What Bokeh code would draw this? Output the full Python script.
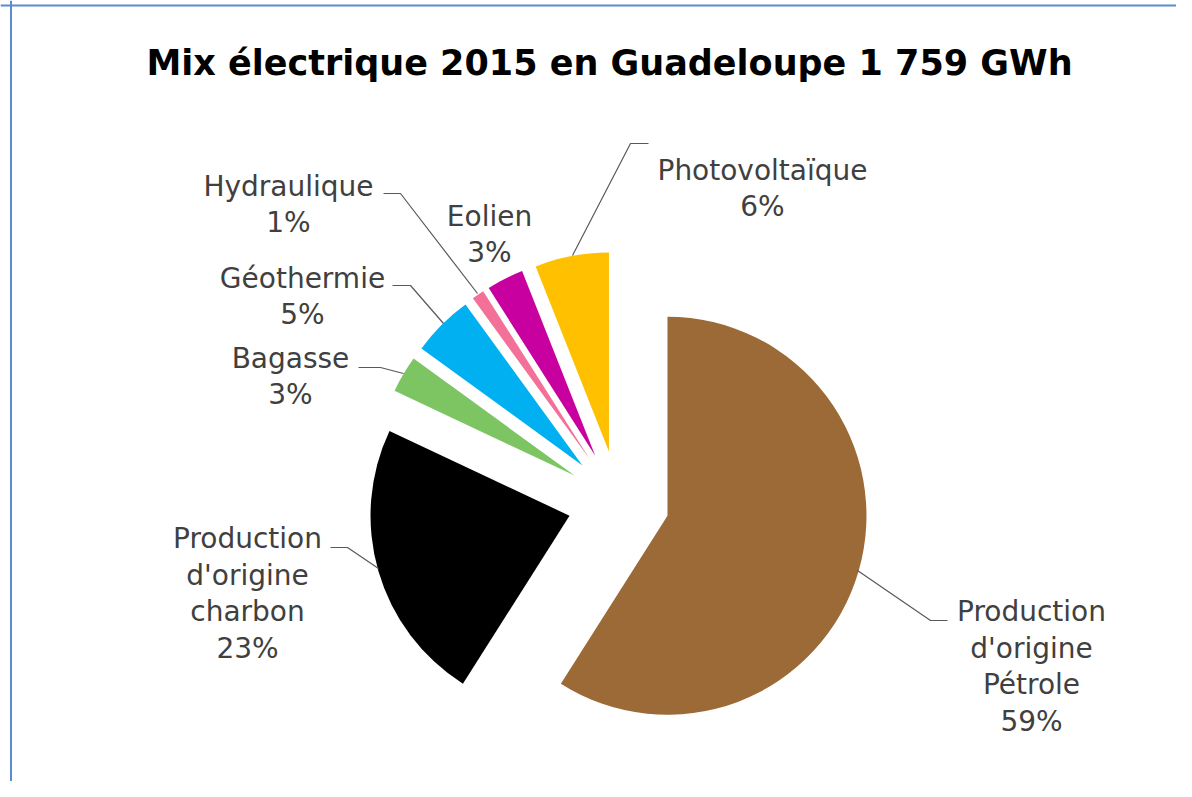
import math
from bokeh.plotting import figure
from bokeh.models import Range1d, Span, ColumnDataSource
from bokeh.core.properties import value
from bokeh.embed import file_html
from bokeh.resources import INLINE

# ---------------- data ----------------
title_text = "Mix électrique 2015 en Guadeloupe 1 759 GWh"
categories = ["Production\nd'origine\nPétrole", "Production\nd'origine\ncharbon",
              "Bagasse", "Géothermie", "Hydraulique", "Eolien", "Photovoltaïque"]
shares = [59, 23, 3, 5, 1, 3, 6]
colors = ["#9C6A36", "#000000", "#7DC462", "#00B0F0", "#F37199", "#C800A0", "#FFC000"]

# ---------------- layout (screen px) ----------------
W, H = 1176, 781
PAGE_H = 797
def Y(ys):  # screen y -> data y
    return PAGE_H - ys

cx, cy, R, EXPLODE = 618, 501, 199, 51

# label block centres (screen coords) per slice, same order as categories
label_pos = [(1031, 666), (247, 593), (290, 376), (302, 296), (288, 204), (489, 234), (762, 188)]
line_gap = 36.5
leaders = [
    [(857, 570), (930, 620), (947, 620)],
    [(330, 547), (347, 547), (378, 568)],
    [(358, 367), (380, 367), (403, 373)],
    [(392, 285), (410, 285), (443, 323)],
    [(383, 193), (400, 193), (477, 293)],
    None,
    [(572, 255), (630, 143), (648, 143)],
]

p = figure(width=W, height=H, output_backend="svg", toolbar_location=None,
           x_range=Range1d(0, W), y_range=Range1d(PAGE_H - H, PAGE_H),
           min_border=0)
p.axis.visible = False
p.xgrid.visible = False
p.ygrid.visible = False
p.outline_line_color = None
p.background_fill_color = "white"
p.border_fill_color = "white"

# wedges, clockwise from 12 o'clock, each pushed out along its mid angle
total = float(sum(shares))
starts, ends, xs, ys = [], [], [], []
acc = 0.0
for v in shares:
    f0, f1 = acc / total, (acc + v) / total
    acc += v
    a_start = math.radians(90 - 360 * f1)
    a_end = math.radians(90 - 360 * f0)
    mid = (a_start + a_end) / 2
    starts.append(a_start)
    ends.append(a_end)
    xs.append(cx + EXPLODE * math.cos(mid))
    ys.append(Y(cy) + EXPLODE * math.sin(mid))

src = ColumnDataSource(dict(x=xs, y=ys, s=starts, e=ends, c=colors))
p.wedge(x="x", y="y", radius=R, start_angle="s", end_angle="e",
        fill_color="c", line_color=None, source=src)

# leader lines
lx, ly = [], []
for pts in leaders:
    if pts:
        lx.append([q[0] for q in pts])
        ly.append([Y(q[1]) for q in pts])
p.multi_line(xs=lx, ys=ly, line_color="#595959", line_width=1.2)

# labels
tx, ty, tt = [], [], []
for cat, v, (bx, by) in zip(categories, shares, label_pos):
    lines = cat.split("\n") + [f"{v}%"]
    n = len(lines)
    for i, ln in enumerate(lines):
        tx.append(bx)
        ty.append(Y(by + (i - (n - 1) / 2) * line_gap))
        tt.append(ln)
p.text(x=tx, y=ty, text=tt, text_font=value("DejaVu Sans"), text_font_size="28px",
       text_color="#404040", text_align="center", text_baseline="middle")

# title
p.text(x=[609], y=[Y(62)], text=[title_text], text_font=value("DejaVu Sans"),
       text_font_size="35px", text_font_style="bold", text_color="#000000",
       text_align="center", text_baseline="middle")

# thin blue frame (top and left)
p.add_layout(Span(location=Y(5), dimension="width", line_color="#5B8BD0", line_width=2))
p.add_layout(Span(location=10.5, dimension="height", line_color="#5B8BD0", line_width=2))

open("out.html", "w").write(file_html(p, INLINE))
